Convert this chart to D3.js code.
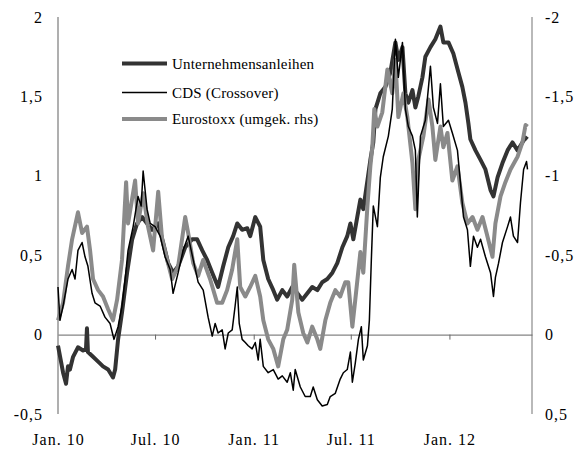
<!DOCTYPE html>
<meta charset="utf-8">
<style>
  body { margin: 0; background: #fff; }
  text { font-family: "Liberation Serif", "Times New Roman", serif; fill: #000; }
</style>
<body>
<script src="https://cdn.jsdelivr.net/npm/d3@7"></script>
<script>
// time as decimal years since Jan 2010
var anleihenT = [0.000,0.026,0.041,0.051,0.061,0.077,0.102,0.128,0.143,0.148,0.153,0.179,0.205,0.230,0.256,0.281,0.292,0.307,0.327,0.353,0.379,0.404,0.430,0.455,0.481,0.512,0.537,0.563,0.588,0.614,0.650,0.685,0.711,0.737,0.762,0.788,0.818,0.844,0.870,0.895,0.916,0.941,0.967,0.982,1.008,1.033,1.049,1.074,1.100,1.120,1.146,1.171,1.197,1.223,1.248,1.274,1.299,1.325,1.350,1.376,1.402,1.427,1.453,1.478,1.494,1.509,1.529,1.545,1.560,1.581,1.596,1.611,1.622,1.647,1.673,1.698,1.724,1.739,1.760,1.775,1.790,1.811,1.826,1.841,1.862,1.877,1.903,1.928,1.954,1.969,1.995,2.020,2.046,2.066,2.082,2.097,2.107,2.133,2.159,2.184,2.210,2.225,2.246,2.271,2.297,2.322,2.348,2.373,2.389,2.399];
var anleihen = [-0.07,-0.24,-0.31,-0.20,-0.22,-0.14,-0.08,-0.10,-0.09,0.04,-0.11,-0.14,-0.17,-0.20,-0.22,-0.27,-0.22,-0.03,0.14,0.39,0.60,0.70,0.74,0.70,0.66,0.70,0.58,0.45,0.39,0.43,0.55,0.60,0.60,0.53,0.47,0.39,0.30,0.43,0.55,0.62,0.70,0.66,0.67,0.62,0.74,0.68,0.47,0.35,0.28,0.22,0.28,0.24,0.30,0.26,0.22,0.26,0.30,0.28,0.33,0.35,0.39,0.45,0.55,0.62,0.70,0.60,0.74,0.85,0.79,0.97,1.10,1.21,1.42,1.52,1.56,1.65,1.84,1.73,1.81,1.52,1.46,1.54,1.43,1.50,1.62,1.75,1.81,1.86,1.94,1.84,1.84,1.77,1.65,1.56,1.46,1.33,1.23,1.16,1.10,1.04,0.91,0.87,0.99,1.08,1.16,1.21,1.16,1.21,1.24,1.23];

var cdsT = [0.000,0.010,0.026,0.051,0.072,0.087,0.102,0.123,0.138,0.153,0.174,0.189,0.215,0.240,0.266,0.286,0.307,0.327,0.343,0.358,0.384,0.409,0.425,0.435,0.455,0.471,0.496,0.522,0.547,0.573,0.588,0.614,0.639,0.665,0.691,0.716,0.742,0.767,0.788,0.803,0.818,0.839,0.854,0.870,0.890,0.905,0.916,0.926,0.941,0.957,0.972,0.992,1.008,1.023,1.033,1.049,1.074,1.100,1.125,1.146,1.171,1.187,1.202,1.212,1.238,1.263,1.289,1.304,1.325,1.350,1.376,1.391,1.417,1.442,1.458,1.478,1.494,1.504,1.519,1.535,1.550,1.560,1.581,1.591,1.601,1.611,1.632,1.647,1.662,1.688,1.708,1.724,1.739,1.760,1.775,1.790,1.811,1.826,1.836,1.852,1.877,1.903,1.918,1.939,1.954,1.969,1.995,2.015,2.041,2.056,2.072,2.092,2.107,2.123,2.143,2.159,2.184,2.210,2.225,2.235,2.251,2.271,2.297,2.312,2.327,2.348,2.363,2.379,2.394,2.399];
var cds = [0.30,0.09,0.18,0.35,0.41,0.35,0.53,0.58,0.49,0.43,0.26,0.20,0.18,0.11,0.07,-0.03,0.05,0.18,0.35,0.53,0.68,0.87,0.81,1.03,0.79,0.70,0.68,0.62,0.49,0.41,0.26,0.39,0.53,0.62,0.47,0.33,0.28,0.11,-0.01,0.07,0.01,0.03,-0.09,0.01,0.03,0.18,0.30,0.07,-0.03,-0.05,-0.07,-0.09,-0.05,-0.16,-0.03,-0.20,-0.24,-0.22,-0.28,-0.26,-0.30,-0.24,-0.35,-0.22,-0.33,-0.39,-0.39,-0.33,-0.41,-0.45,-0.44,-0.39,-0.37,-0.28,-0.24,-0.22,-0.11,-0.30,-0.18,-0.03,0.05,-0.16,-0.07,0.09,0.47,0.81,0.68,0.99,1.12,1.25,1.42,1.86,1.62,1.84,1.42,1.31,1.25,1.16,0.74,1.25,1.35,1.69,1.43,1.33,1.58,1.31,1.35,1.27,1.16,0.96,0.74,0.66,0.43,0.62,0.55,0.60,0.49,0.39,0.24,0.36,0.45,0.58,0.68,0.74,0.62,0.58,0.83,1.04,1.09,1.04];

// Eurostoxx in rhs units (inverted axis)
var stoxxT = [0.000,0.026,0.051,0.072,0.102,0.123,0.148,0.164,0.179,0.205,0.230,0.256,0.281,0.302,0.327,0.348,0.358,0.394,0.409,0.435,0.460,0.486,0.512,0.532,0.558,0.583,0.614,0.650,0.665,0.691,0.716,0.742,0.777,0.813,0.839,0.864,0.890,0.916,0.931,0.957,0.982,1.008,1.033,1.049,1.074,1.100,1.125,1.151,1.171,1.197,1.207,1.228,1.253,1.274,1.299,1.325,1.340,1.366,1.391,1.417,1.442,1.468,1.483,1.504,1.519,1.545,1.560,1.581,1.596,1.606,1.616,1.632,1.657,1.683,1.708,1.724,1.739,1.765,1.785,1.811,1.826,1.841,1.867,1.893,1.913,1.928,1.954,1.969,1.990,2.015,2.041,2.066,2.092,2.118,2.143,2.169,2.194,2.220,2.235,2.261,2.286,2.312,2.348,2.373,2.389,2.399];
var stoxx = [-0.09,-0.20,-0.43,-0.60,-0.77,-0.64,-0.68,-0.53,-0.35,-0.28,-0.24,-0.16,-0.09,-0.22,-0.47,-0.96,-0.70,-0.97,-0.70,-0.89,-0.68,-0.53,-0.90,-0.60,-0.47,-0.35,-0.43,-0.74,-0.64,-0.45,-0.37,-0.47,-0.35,-0.20,-0.20,-0.28,-0.41,-0.60,-0.30,-0.24,-0.30,-0.37,-0.24,-0.09,0.03,0.09,0.20,0.03,-0.03,-0.22,-0.44,-0.14,-0.01,0.05,-0.05,0.03,0.09,-0.09,-0.20,-0.28,-0.24,-0.33,-0.33,-0.05,-0.22,-0.52,-0.39,-0.81,-1.06,-1.18,-1.42,-1.31,-1.40,-1.67,-1.52,-1.73,-1.37,-1.52,-1.37,-1.08,-0.79,-1.10,-1.25,-1.48,-1.31,-1.10,-1.31,-1.18,-1.27,-0.97,-1.06,-0.83,-0.70,-0.74,-0.66,-0.74,-0.62,-0.49,-0.70,-0.87,-0.96,-1.04,-1.12,-1.21,-1.32,-1.31];

var leftTicks = [2, 1.5, 1, 0.5, 0, -0.5];
var rightTicks = [-2, -1.5, -1, -0.5, 0, 0.5];
var legendNames = ["Unternehmensanleihen", "CDS (Crossover)", "Eurostoxx (umgek. rhs)"];

var width = 587, height = 451;
var start = new Date(2010, 0, 1);

function toDate(t) { return new Date(start.getTime() + t * 365 * 864e5); }

var de = d3.formatLocale({decimal: ",", thousands: ".", grouping: [3], currency: ["", " €"], minus: "-"});
var fmt = de.format("~g");

var x = d3.scaleTime().domain([start, new Date(2012, 5, 3)]).range([58, 532]);
var y = d3.scaleLinear().domain([-0.5, 2]).range([414, 17]);
var yR = d3.scaleLinear().domain([0.5, -2]).range([414, 17]);

var svg = d3.select("body").append("svg")
  .attr("width", width)
  .attr("height", height);

// vertical axis lines
svg.append("line").attr("x1", 58).attr("x2", 58).attr("y1", 17).attr("y2", 414)
  .attr("stroke", "#7a7a7a").attr("stroke-width", 1.2);
svg.append("line").attr("x1", 532).attr("x2", 532).attr("y1", 17).attr("y2", 414)
  .attr("stroke", "#8a8a8a").attr("stroke-width", 1.2);

// zero line with ticks
var xTicks = [new Date(2010,6,1), new Date(2011,0,1), new Date(2011,6,1), new Date(2012,0,1)];
var zero = svg.append("g").attr("transform", "translate(0," + y(0) + ")")
  .call(d3.axisBottom(x).tickValues(xTicks).tickSize(5).tickSizeOuter(0).tickFormat(""));
zero.select(".domain").attr("stroke", "#666");
zero.selectAll(".tick line").attr("stroke", "#666");

// date labels at the bottom
var bottom = svg.append("g").attr("transform", "translate(0,425)")
  .call(d3.axisBottom(x)
    .tickValues([start].concat(xTicks))
    .tickSize(0).tickPadding(9)
    .tickFormat(d3.timeFormat("%b. %y")));
bottom.select(".domain").remove();
bottom.selectAll("text").style("font-size", "16px").style("letter-spacing", "1px")
  .style("font-family", "'Liberation Serif', serif");

var left = svg.append("g").attr("transform", "translate(58,0)")
  .call(d3.axisLeft(y).tickValues(leftTicks).tickSize(0).tickPadding(15).tickFormat(fmt));
left.select(".domain").remove();
left.selectAll("text").style("font-size", "16px").style("letter-spacing", "1px")
  .style("font-family", "'Liberation Serif', serif");

var right = svg.append("g").attr("transform", "translate(532,0)")
  .call(d3.axisRight(yR).tickValues(rightTicks).tickSize(0).tickPadding(13).tickFormat(fmt));
right.select(".domain").remove();
right.selectAll("text").style("font-size", "16px").style("letter-spacing", "1px")
  .style("font-family", "'Liberation Serif', serif");

function series(ts, vs) {
  return ts.map(function(t, i) { return {date: toDate(t), value: vs[i]}; });
}

var lineL = d3.line().x(function(d) { return x(d.date); }).y(function(d) { return y(d.value); });
var lineR = d3.line().x(function(d) { return x(d.date); }).y(function(d) { return yR(d.value); });

svg.append("path").datum(series(anleihenT, anleihen))
  .attr("d", lineL).attr("fill", "none")
  .attr("stroke", "#333").attr("stroke-width", 4).attr("stroke-linejoin", "round");

svg.append("path").datum(series(stoxxT, stoxx))
  .attr("d", lineR).attr("fill", "none")
  .attr("stroke", "#8a8a8a").attr("stroke-width", 4).attr("stroke-linejoin", "round");

svg.append("path").datum(series(cdsT, cds))
  .attr("d", lineL).attr("fill", "none")
  .attr("stroke", "#000").attr("stroke-width", 1.5).attr("stroke-linejoin", "round");

// legend
var legendStyle = [
  {color: "#333", w: 4, y: 63.5},
  {color: "#000", w: 1.5, y: 92.5},
  {color: "#8a8a8a", w: 4, y: 119}
];
var lg = svg.append("g");
legendNames.forEach(function(name, i) {
  var s = legendStyle[i];
  lg.append("line").attr("x1", 122).attr("x2", 167).attr("y1", s.y).attr("y2", s.y)
    .attr("stroke", s.color).attr("stroke-width", s.w);
  lg.append("text").attr("x", 172).attr("y", s.y + 5)
    .style("font-size", "15px").style("letter-spacing", "0.2px")
    .text(name);
});
</script>
</body>
